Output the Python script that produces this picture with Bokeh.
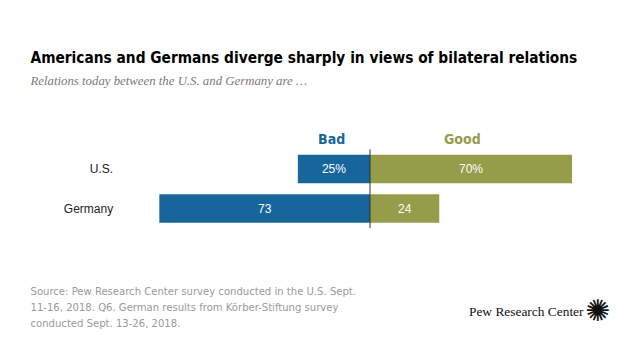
from bokeh.plotting import figure
from bokeh.models import Range1d, Label, ColumnDataSource
from bokeh.core.properties import value
from bokeh.embed import file_html
from bokeh.resources import INLINE

# ---- data ----
countries = ["U.S.", "Germany"]
bad = [25, 73]
good = [70, 24]
bad_labels = ["25%", "73"]
good_labels = ["70%", "24"]
series_names = ["Bad", "Good"]

title_text = "Americans and Germans diverge sharply in views of bilateral relations"
subtitle_text = "Relations today between the U.S. and Germany are \u2026"
source_lines = [
    "Source: Pew Research Center survey conducted in the U.S. Sept.",
    "11-16, 2018. Q6. German results from K\u00f6rber-Stiftung survey",
    "conducted Sept. 13-26, 2018.",
]
brand = "Pew Research Center"

# ---- styles ----
BLUE = "#17669b"
OLIVE = "#969d4a"
COND = "'DejaVu Sans Condensed', 'Roboto Condensed', 'Liberation Sans Narrow', sans-serif"

ypos = list(range(len(countries)))

src = ColumnDataSource(dict(
    y=ypos,
    country=countries,
    bad_left=[-b for b in bad],
    bad_mid=[-b / 2 for b in bad],
    good_mid=[g / 2 for g in good],
    good=good,
    bad_lab=bad_labels,
    good_lab=good_labels,
    zero=[0] * len(countries),
))

p = figure(width=624, height=344, output_backend="svg", toolbar_location=None,
           x_range=Range1d(-128.03, 88.18), y_range=Range1d(4.443, -4.266),
           x_axis_type=None, y_axis_type=None, min_border=0)
p.grid.visible = False
p.outline_line_color = None
p.background_fill_color = "white"

BH = 0.72
p.hbar(y="y", left="bad_left", right="zero", height=BH, source=src,
       fill_color=BLUE, line_color=None)
p.hbar(y="y", left="zero", right="good", height=BH, source=src,
       fill_color=OLIVE, line_color=None)

# center line
p.segment(x0=[0], x1=[0], y0=[-0.5], y1=[len(countries) - 0.5],
          line_color="#333333", line_width=1)

# value labels
p.text(x="bad_mid", y="y", text="bad_lab", source=src, text_align="center",
       text_baseline="middle", text_color="white",
       text_font=value("Liberation Sans"), text_font_size="12px")
p.text(x="good_mid", y="y", text="good_lab", source=src, text_align="center",
       text_baseline="middle", text_color="white",
       text_font=value("Liberation Sans"), text_font_size="12px")

# category labels
p.text(x=-89, y="y", text="country", source=src,
       text_align="right", text_baseline="middle", text_color="#222222",
       text_font=value("Liberation Sans"), text_font_size="12px")

# column headers
p.text(x=-13.3, y=-0.75, text=[series_names[0]],
       text_align="center", text_baseline="middle",
       text_color=BLUE, text_font=value(COND),
       text_font_style="bold", text_font_size="14px")
p.text(x=32, y=-0.75, text=[series_names[1]],
       text_align="center", text_baseline="middle",
       text_color=OLIVE, text_font=value(COND),
       text_font_style="bold", text_font_size="14px")

# title & subtitle
p.add_layout(Label(x=30, y=287, x_units="screen", y_units="screen",
                   text=title_text, text_font=COND, text_font_style="bold",
                   text_font_size="15.3px", text_color="#000000",
                   text_baseline="alphabetic"))
p.add_layout(Label(x=30, y=264, x_units="screen", y_units="screen",
                   text=subtitle_text, text_font="Liberation Serif",
                   text_font_style="italic", text_font_size="12.8px",
                   text_color="#7a7a7a", text_baseline="alphabetic"))

# source note
for i, line in enumerate(source_lines):
    p.add_layout(Label(x=30, y=53 - 16 * i, x_units="screen", y_units="screen",
                       text=line, text_font=COND, text_font_size="11.2px",
                       text_color="#9a9a9a", text_baseline="middle"))

# brand
p.add_layout(Label(x=583, y=33, x_units="screen", y_units="screen",
                   text=brand, text_font="Liberation Serif",
                   text_font_size="13.4px", text_color="#111111",
                   text_align="right", text_baseline="middle"))
p.add_layout(Label(x=597, y=34, x_units="screen", y_units="screen",
                   text="\u273a", text_font="DejaVu Sans",
                   text_font_size="30px", text_color="#111111",
                   text_align="center", text_baseline="middle"))

open("out.html", "w").write(file_html(p, INLINE))
